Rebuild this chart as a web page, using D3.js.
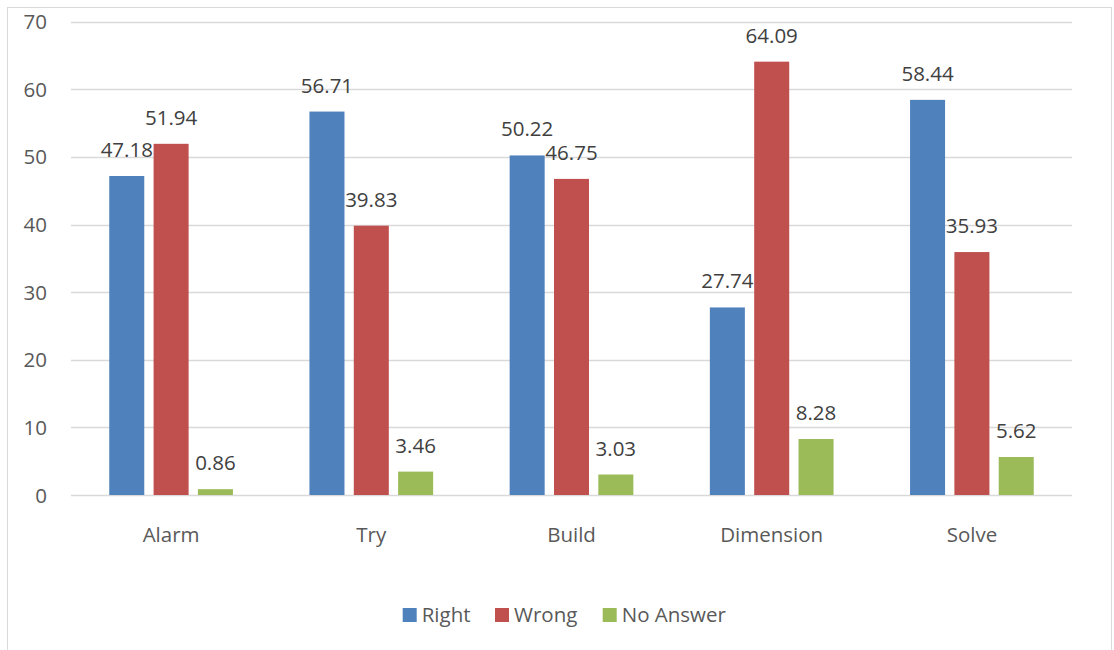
<!DOCTYPE html>
<html>
<head>
<meta charset="utf-8">
<script src="https://cdn.jsdelivr.net/npm/d3@7"></script>
<style>
  body { margin: 0; background: #fff; }
  text { font-family: "Open Sans", sans-serif; fill: #595959; }
</style>
</head>
<body>
<script>
let w = 1114;
let h = 650;

let categories = ["Alarm", "Try", "Build", "Dimension", "Solve"];
let seriesNames = ["Right", "Wrong", "No Answer"];
let right = [47.18, 56.71, 50.22, 27.74, 58.44];
let wrong = [51.94, 39.83, 46.75, 64.09, 35.93];
let noAnswer = [0.86, 3.46, 3.03, 8.28, 5.62];
let yTicks = [0, 10, 20, 30, 40, 50, 60, 70];
let colors = ["#4F81BD", "#C0504D", "#9BBB59"];

let series = [right, wrong, noAnswer];

let plotLeft = 71, plotRight = 1072, plotTop = 21.7, plotBottom = 495;
let fontSize = "20.5px";

let x0 = d3.scaleBand()
  .domain(categories)
  .range([plotLeft, plotRight]);

let groupW = 123.7;
let x1 = d3.scaleBand()
  .domain(seriesNames)
  .range([0, groupW])
  .paddingInner(0.21);

let y = d3.scaleLinear()
  .domain([0, 70])
  .range([plotBottom, plotTop]);

let svg = d3.select("body")
  .append("svg")
  .attr("width", w)
  .attr("height", h);

// chart border
svg.append("rect")
  .attr("x", 7.5)
  .attr("y", 7.5)
  .attr("width", 1104)
  .attr("height", 660)
  .attr("fill", "none")
  .attr("stroke", "#d9d9d9")
  .attr("stroke-width", 1);

// gridlines
svg.selectAll("line.grid")
  .data(yTicks)
  .enter()
  .append("line")
  .attr("class", "grid")
  .attr("x1", plotLeft)
  .attr("x2", plotRight)
  .attr("y1", d => Math.round(y(d)) + 0.5)
  .attr("y2", d => Math.round(y(d)) + 0.5)
  .attr("stroke", "#d9d9d9")
  .attr("stroke-width", 1.3);

// y tick labels
svg.selectAll("text.ytick")
  .data(yTicks)
  .enter()
  .append("text")
  .attr("class", "ytick")
  .attr("x", 47)
  .attr("y", d => y(d) + 7.5)
  .attr("text-anchor", "end")
  .attr("font-size", fontSize)
  .text(d => d);

// bars
let groups = svg.selectAll("g.cat")
  .data(categories)
  .enter()
  .append("g")
  .attr("class", "cat")
  .attr("transform", d => "translate(" + (x0(d) + (x0.bandwidth() - groupW) / 2) + ",0)");

groups.selectAll("rect")
  .data((_, i) => seriesNames.map((s, j) => ({ s: s, v: series[j][i], c: colors[j] })))
  .enter()
  .append("rect")
  .attr("x", d => x1(d.s))
  .attr("y", d => y(d.v))
  .attr("width", x1.bandwidth())
  .attr("height", d => y(0) - y(d.v))
  .attr("fill", d => d.c);

groups.selectAll("text.val")
  .data((_, i) => seriesNames.map((s, j) => ({ s: s, v: series[j][i] })))
  .enter()
  .append("text")
  .attr("class", "val")
  .attr("x", d => x1(d.s) + x1.bandwidth() / 2)
  .attr("y", d => y(d.v) - 19)
  .attr("text-anchor", "middle")
  .attr("font-size", fontSize)
  .style("fill", "#404040")
  .text(d => d.v.toFixed(2));

// category labels
svg.selectAll("text.catlabel")
  .data(categories)
  .enter()
  .append("text")
  .attr("class", "catlabel")
  .attr("x", d => x0(d) + x0.bandwidth() / 2)
  .attr("y", 541.5)
  .attr("text-anchor", "middle")
  .attr("font-size", fontSize)
  .text(d => d);

// legend
let legendX = [402.7, 495, 602.7];
let legend = svg.selectAll("g.legend")
  .data(seriesNames)
  .enter()
  .append("g")
  .attr("class", "legend")
  .attr("transform", (_, i) => "translate(" + legendX[i] + ",608)");

legend.append("rect")
  .attr("width", 14)
  .attr("height", 14)
  .attr("fill", (_, i) => colors[i]);

legend.append("text")
  .attr("x", 19)
  .attr("y", 14)
  .attr("font-size", fontSize)
  .text(d => d);
</script>
</body>
</html>
